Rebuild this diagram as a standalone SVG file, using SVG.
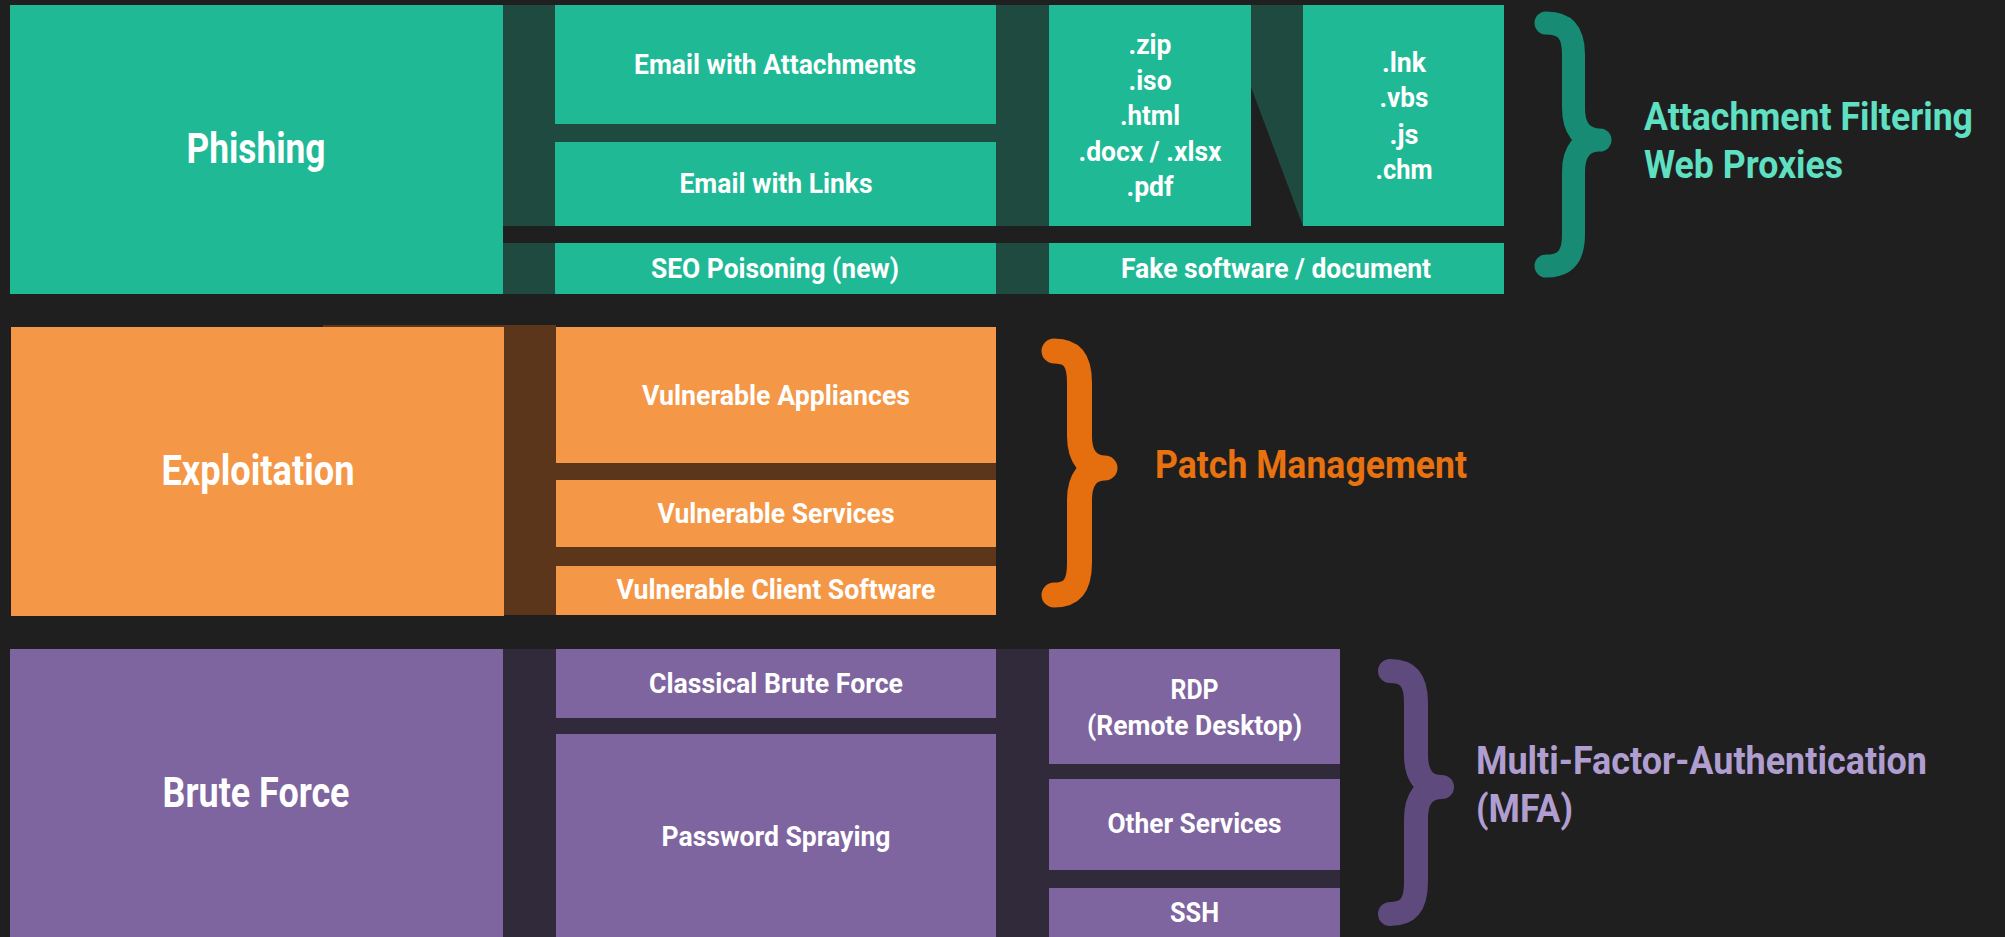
<svg xmlns="http://www.w3.org/2000/svg" width="2005" height="937" viewBox="0 0 2005 937">
<style>
  .bg { fill: #1f1f1f; }
  .teal { fill: #1fb996; }
  .tealDark { fill: #1f4a40; }
  .orange { fill: #f49747; }
  .brown { fill: #5b361a; }
  .purple { fill: #7e65a0; }
  .purpleDark { fill: #302a3a; }
  text { font-family: "Roboto", "Liberation Sans", sans-serif; font-weight: 700; }
  .main { font-size: 42px; fill: #ffffff; text-anchor: middle; }
  .sub { font-size: 28px; fill: #ffffff; text-anchor: middle; }
  .lbl { font-size: 38px; }
  .brace { fill: none; stroke-width: 24; stroke-linecap: round; stroke-linejoin: round; }
</style>
<rect class="bg" x="0" y="0" width="2005" height="937"/>

<g id="connectors">
  <!-- Phishing -->
  <rect class="tealDark" x="503" y="5" width="52" height="221"/>
  <rect class="tealDark" x="503" y="243" width="52" height="51"/>
  <rect class="tealDark" x="555" y="124" width="441" height="18"/>
  <rect class="tealDark" x="996" y="5" width="53" height="221"/>
  <rect class="tealDark" x="996" y="243" width="53" height="51"/>
  <polygon class="tealDark" points="1251,5 1303,5 1303,226 1251,87"/>
  <!-- Exploitation -->
  <rect class="brown" x="323" y="325" width="181" height="3"/>
  <rect class="brown" x="504" y="325" width="52" height="290"/>
  <rect class="brown" x="556" y="463" width="440" height="17"/>
  <rect class="brown" x="556" y="547" width="440" height="19"/>
  <!-- Brute force -->
  <rect class="purpleDark" x="503" y="649" width="53" height="288"/>
  <rect class="purpleDark" x="556" y="718" width="440" height="16"/>
  <rect class="purpleDark" x="996" y="649" width="53" height="288"/>
  <rect class="purpleDark" x="1049" y="764" width="291" height="15"/>
  <rect class="purpleDark" x="1049" y="870" width="291" height="18"/>
</g>

<g id="phishing">
  <rect class="teal" x="10" y="5" width="493" height="289"/>
  <text class="main" x="256" y="163" textLength="139" lengthAdjust="spacingAndGlyphs">Phishing</text>
</g>
<g id="email-attachments">
  <rect class="teal" x="555" y="5" width="441" height="119"/>
  <text class="sub" x="775" y="74" textLength="282" lengthAdjust="spacingAndGlyphs">Email with Attachments</text>
</g>
<g id="email-links">
  <rect class="teal" x="555" y="142" width="441" height="84"/>
  <text class="sub" x="776" y="193" textLength="193" lengthAdjust="spacingAndGlyphs">Email with Links</text>
</g>
<g id="seo-poisoning">
  <rect class="teal" x="555" y="243" width="441" height="51"/>
  <text class="sub" x="775" y="278" textLength="248" lengthAdjust="spacingAndGlyphs">SEO Poisoning (new)</text>
</g>
<g id="archive-types">
  <rect class="teal" x="1049" y="5" width="202" height="221"/>
  <text class="sub" x="1150" y="54" textLength="43" lengthAdjust="spacingAndGlyphs">.zip</text>
  <text class="sub" x="1150" y="89.5" textLength="43" lengthAdjust="spacingAndGlyphs">.iso</text>
  <text class="sub" x="1150" y="125" textLength="60" lengthAdjust="spacingAndGlyphs">.html</text>
  <text class="sub" x="1150" y="160.5" textLength="143" lengthAdjust="spacingAndGlyphs">.docx / .xlsx</text>
  <text class="sub" x="1150" y="196" textLength="47" lengthAdjust="spacingAndGlyphs">.pdf</text>
</g>
<g id="script-types">
  <rect class="teal" x="1303" y="5" width="201" height="221"/>
  <text class="sub" x="1404" y="72" textLength="44" lengthAdjust="spacingAndGlyphs">.lnk</text>
  <text class="sub" x="1404" y="107" textLength="49" lengthAdjust="spacingAndGlyphs">.vbs</text>
  <text class="sub" x="1404" y="144" textLength="29" lengthAdjust="spacingAndGlyphs">.js</text>
  <text class="sub" x="1404" y="179" textLength="57" lengthAdjust="spacingAndGlyphs">.chm</text>
</g>
<g id="fake-software">
  <rect class="teal" x="1049" y="243" width="455" height="51"/>
  <text class="sub" x="1276" y="278" textLength="310" lengthAdjust="spacingAndGlyphs">Fake software / document</text>
</g>
<g id="phishing-mitigation">
  <path class="brace" style="stroke:#178b73;stroke-width:23" d="M1546,23 C1566,23 1573.5,33 1573.5,55 L1573.5,108 C1573.5,128 1582,140 1600,140 C1582,140 1573.5,152 1573.5,172 L1573.5,234 C1573.5,256 1566,266 1546,266"/>
  <text class="lbl" x="1644" y="130" fill="#5fe0c3" textLength="329" lengthAdjust="spacingAndGlyphs">Attachment Filtering</text>
  <text class="lbl" x="1644" y="178" fill="#5fe0c3" textLength="199" lengthAdjust="spacingAndGlyphs">Web Proxies</text>
</g>

<g id="exploitation">
  <rect class="orange" x="11" y="327" width="493" height="289"/>
  <text class="main" x="258" y="485" textLength="193" lengthAdjust="spacingAndGlyphs">Exploitation</text>
</g>
<g id="vulnerable-appliances">
  <rect class="orange" x="556" y="327" width="440" height="136"/>
  <text class="sub" x="776" y="405" textLength="268" lengthAdjust="spacingAndGlyphs">Vulnerable Appliances</text>
</g>
<g id="vulnerable-services">
  <rect class="orange" x="556" y="480" width="440" height="67"/>
  <text class="sub" x="776" y="523" textLength="237" lengthAdjust="spacingAndGlyphs">Vulnerable Services</text>
</g>
<g id="vulnerable-client-software">
  <rect class="orange" x="556" y="566" width="440" height="49"/>
  <text class="sub" x="776" y="599" textLength="319" lengthAdjust="spacingAndGlyphs">Vulnerable Client Software</text>
</g>
<g id="exploitation-mitigation">
  <path class="brace" style="stroke:#e56e0f;stroke-width:25" d="M1054,351 C1073,351 1079.5,361 1079.5,383 L1079.5,436 C1079.5,456 1088,468 1105,468 C1088,468 1079.5,480 1079.5,500 L1079.5,563 C1079.5,585 1073,595 1054,595"/>
  <text class="lbl" x="1155" y="478" fill="#e8720f" textLength="312" lengthAdjust="spacingAndGlyphs">Patch Management</text>
</g>

<g id="brute-force">
  <rect class="purple" x="10" y="649" width="493" height="288"/>
  <text class="main" x="256" y="807" textLength="187" lengthAdjust="spacingAndGlyphs">Brute Force</text>
</g>
<g id="classical-brute-force">
  <rect class="purple" x="556" y="649" width="440" height="69"/>
  <text class="sub" x="776" y="693" textLength="254" lengthAdjust="spacingAndGlyphs">Classical Brute Force</text>
</g>
<g id="password-spraying">
  <rect class="purple" x="556" y="734" width="440" height="203"/>
  <text class="sub" x="776" y="846" textLength="229" lengthAdjust="spacingAndGlyphs">Password Spraying</text>
</g>
<g id="rdp">
  <rect class="purple" x="1049" y="649" width="291" height="115"/>
  <text class="sub" x="1194.5" y="699" textLength="48" lengthAdjust="spacingAndGlyphs">RDP</text>
  <text class="sub" x="1194.5" y="735" textLength="215" lengthAdjust="spacingAndGlyphs">(Remote Desktop)</text>
</g>
<g id="other-services">
  <rect class="purple" x="1049" y="779" width="291" height="91"/>
  <text class="sub" x="1194.5" y="833" textLength="174" lengthAdjust="spacingAndGlyphs">Other Services</text>
</g>
<g id="ssh">
  <rect class="purple" x="1049" y="888" width="291" height="49"/>
  <text class="sub" x="1194.5" y="922" textLength="49" lengthAdjust="spacingAndGlyphs">SSH</text>
</g>
<g id="brute-force-mitigation">
  <path class="brace" style="stroke:#5f4a7e;stroke-width:24" d="M1390,671 C1409,671 1416,681 1416,703 L1416,755 C1416,775 1424,787 1442,787 C1424,787 1416,799 1416,819 L1416,882 C1416,904 1409,914 1390,914"/>
  <text class="lbl" x="1476" y="774" fill="#b09ed0" textLength="451" lengthAdjust="spacingAndGlyphs">Multi-Factor-Authentication</text>
  <text class="lbl" x="1476" y="822" fill="#b09ed0" textLength="97" lengthAdjust="spacingAndGlyphs">(MFA)</text>
</g>
</svg>
